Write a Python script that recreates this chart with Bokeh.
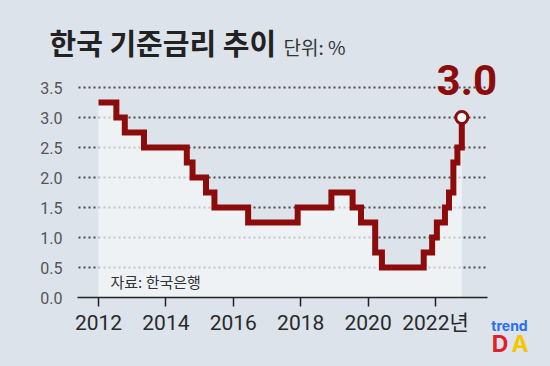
from bokeh.plotting import figure
from bokeh.models import FixedTicker, PrintfTickFormatter, Label, Range1d, LinearAxis
from bokeh.embed import file_html
from bokeh.resources import INLINE

# Korean base rate (decimal year of change, rate %)
dates = [2012.00, 2012.53, 2012.78, 2013.35, 2014.62, 2014.79, 2015.19, 2015.44,
         2016.44, 2017.91, 2018.91, 2019.54, 2019.79, 2020.21, 2020.41, 2021.65,
         2021.90, 2022.04, 2022.28, 2022.40, 2022.53, 2022.65, 2022.78]
rates = [3.25, 3.00, 2.75, 2.50, 2.25, 2.00, 1.75, 1.50,
         1.25, 1.50, 1.75, 1.50, 1.25, 0.75, 0.50, 0.75,
         1.00, 1.25, 1.50, 1.75, 2.25, 2.50, 3.00]
x_ticks = [2012, 2014, 2016, 2018, 2020, 2022]
y_ticks = [0.0, 0.5, 1.0, 1.5, 2.0, 2.5, 3.0, 3.5]
title_text = "한국 기준금리 추이"
unit_text = "단위: %"
source_text = "자료: 한국은행"

BG = "#dce3ea"
RED = "#8c0b0b"
NUM = "Roboto, Noto Sans CJK KR"
KR = "Noto Sans CJK KR"

# plotting area extent along x (axis line span)
X0, X1 = 2011.377, 2023.543

p = figure(width=550, height=366, output_backend="svg", toolbar_location=None,
           x_range=Range1d(2009.092, 2025.412), y_range=Range1d(-1.15, 4.95),
           x_axis_location=None, y_axis_location=None,
           min_border=0, min_border_left=0, min_border_right=0,
           min_border_top=0, min_border_bottom=0,
           background_fill_color=BG, border_fill_color=BG, outline_line_color=None)
p.xgrid.visible = False
p.ygrid.visible = False

# dotted horizontal gridlines
grid_y = y_ticks[1:]
p.segment(x0=[X0 + 0.03] * len(grid_y), x1=[X1 - 0.06] * len(grid_y), y0=grid_y, y1=grid_y,
          line_color="#4a4a4a", line_dash="2 3", line_width=1.8)

# area under the step line
p.varea_step(x=dates, y1=0, y2=rates, step_mode="after",
             fill_color="#f6f8fa", fill_alpha=0.7)
p.step(dates, rates, mode="after", line_width=6, line_color=RED, line_join="miter")
p.scatter([dates[-1]], [rates[-1]], size=12, fill_color="white",
          line_color=RED, line_width=3)

# y axis
yax = LinearAxis(fixed_location=X0, bounds=(y_ticks[0], y_ticks[-1]))
yax.ticker = FixedTicker(ticks=y_ticks)
yax.formatter = PrintfTickFormatter(format="%.1f")
yax.axis_line_color = None
yax.major_tick_line_color = None
yax.minor_tick_line_color = None
yax.major_label_standoff = 9
yax.major_label_text_font = "Roboto"
yax.major_label_text_font_size = "16px"
yax.major_label_text_color = "#555555"
p.add_layout(yax, "left")

# x axis
xax = LinearAxis(fixed_location=0, bounds=(X0, X1))
xax.ticker = FixedTicker(ticks=x_ticks)
xax.major_label_overrides = {x_ticks[-1]: f"{x_ticks[-1]}년"}
xax.axis_line_color = "#222222"
xax.axis_line_width = 1.5
xax.major_tick_line_color = "#222222"
xax.major_tick_line_width = 1.5
xax.major_tick_out = 9
xax.major_tick_in = 0
xax.minor_tick_line_color = None
xax.major_label_standoff = 4
xax.major_label_text_font = NUM
xax.major_label_text_font_size = "21px"
xax.major_label_text_color = "#2a2a2a"
p.add_layout(xax, "below")

# texts (screen units from canvas bottom-left)
p.add_layout(Label(x=49, y=325, x_units="screen", y_units="screen", text=title_text,
                   text_font=KR, text_font_style="bold", text_font_size="29px",
                   text_color="#222222", text_baseline="middle"))
p.add_layout(Label(x=283, y=320, x_units="screen", y_units="screen", text=unit_text,
                   text_font=KR, text_font_size="19px",
                   text_color="#333333", text_baseline="middle"))
p.add_layout(Label(x=110, y=85, x_units="screen", y_units="screen", text=source_text,
                   text_font=KR, text_font_size="15px",
                   text_color="#333333", text_baseline="middle"))
p.add_layout(Label(x=dates[-1], y=rates[-1], text=f"{rates[-1]:.1f}",
                   x_offset=5, y_offset=38,
                   text_font="Roboto", text_font_style="bold",
                   text_font_size="42px", text_color=RED,
                   text_align="center", text_baseline="middle"))
# logo
p.add_layout(Label(x=509, y=41, x_units="screen", y_units="screen", text="trend",
                   text_font="Inter", text_font_style="bold", text_font_size="14px",
                   text_color="#2b6ef0", text_align="center", text_baseline="middle"))
p.add_layout(Label(x=499.5, y=22.5, x_units="screen", y_units="screen", text="D",
                   text_font="Inter", text_font_style="bold", text_font_size="23px",
                   text_color="#e0202a", text_align="center", text_baseline="middle"))
p.add_layout(Label(x=519.5, y=22.5, x_units="screen", y_units="screen", text="A",
                   text_font="Inter", text_font_style="bold", text_font_size="23px",
                   text_color="#f7c600", text_align="center", text_baseline="middle"))

html = file_html(p, INLINE, title="한국 기준금리 추이")
html = html.replace("<body>", f'<body style="background-color:{BG}">')
open("out.html", "w").write(html)
